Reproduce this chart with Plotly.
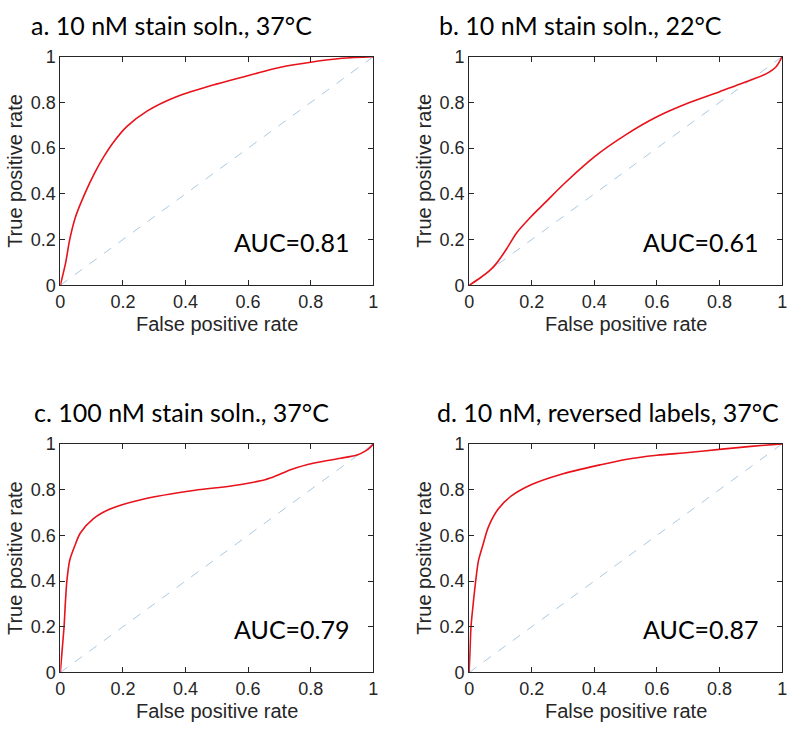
import plotly.graph_objects as go

# ---- data ----
titles = ["a. 10 nM stain soln., 37°C", "b. 10 nM stain soln., 22°C",
          "c. 100 nM stain soln., 37°C", "d. 10 nM, reversed labels, 37°C"]
auc_labels = ["AUC=0.81", "AUC=0.61", "AUC=0.79", "AUC=0.87"]

fpr_a = [0, 0.017, 0.030, 0.048, 0.078, 0.109, 0.14, 0.171, 0.213, 0.277, 0.371, 0.498, 0.613, 0.7, 0.8, 0.9, 1.0]
tpr_a = [0, 0.098, 0.2, 0.297, 0.4, 0.49, 0.565, 0.628, 0.695, 0.762, 0.825, 0.88, 0.922, 0.953, 0.976, 0.993, 1.0]

fpr_b = [0, 0.036, 0.067, 0.088, 0.12, 0.151, 0.199, 0.246, 0.3, 0.4, 0.5, 0.6, 0.7, 0.8, 0.9, 0.95, 0.98, 1.0]
tpr_b = [0, 0.033, 0.066, 0.097, 0.16, 0.228, 0.302, 0.366, 0.44, 0.562, 0.658, 0.737, 0.797, 0.847, 0.898, 0.926, 0.955, 1.0]

fpr_c = [0, 0.006, 0.012, 0.016, 0.021, 0.030, 0.046, 0.064, 0.106, 0.159, 0.264, 0.431, 0.5, 0.55, 0.6, 0.654, 0.686, 0.738, 0.811, 0.895, 0.948, 0.974, 0.99, 1.0]
tpr_c = [0, 0.1, 0.2, 0.3, 0.4, 0.49, 0.553, 0.61, 0.673, 0.715, 0.758, 0.797, 0.808, 0.817, 0.828, 0.843, 0.858, 0.888, 0.916, 0.937, 0.951, 0.968, 0.985, 1.0]

fpr_d = [0, 0.003, 0.006, 0.013, 0.021, 0.030, 0.043, 0.062, 0.093, 0.135, 0.198, 0.292, 0.418, 0.5, 0.6, 0.7, 0.8, 0.9, 1.0]
tpr_d = [0, 0.1, 0.2, 0.3, 0.4, 0.49, 0.553, 0.638, 0.715, 0.772, 0.821, 0.866, 0.908, 0.932, 0.95, 0.962, 0.976, 0.989, 1.0]

chance = [0, 1]
tick_vals = [0, 0.2, 0.4, 0.6, 0.8, 1]
tick_text = ["0", "0.2", "0.4", "0.6", "0.8", "1"]
x_title = "False positive rate"
y_title = "True positive rate"

curves = [(fpr_a, tpr_a), (fpr_b, tpr_b), (fpr_c, tpr_c), (fpr_d, tpr_d)]

# ---- layout geometry (pixels) ----
W, H = 800, 735
boxes = [(56, 373, 48, 283), (470, 787, 48, 283), (56, 373, 446, 681), (470, 787, 446, 681)]
title_pos = [(24, 15), (437, 15), (27, 413), (435, 413)]

fig = go.Figure()
ann = []
layout = {}
axcol = "#262626"
for i, ((fx, ty), (x0, x1, y0, y1)) in enumerate(zip(curves, boxes)):
    n = "" if i == 0 else str(i + 1)
    xa, ya = "x" + n, "y" + n
    fig.add_trace(go.Scatter(x=chance, y=chance, xaxis=xa, yaxis=ya, mode="lines",
                             line=dict(color="#a9c9e2", width=1, dash="dash"),
                             showlegend=False, hoverinfo="skip"))
    fig.add_trace(go.Scatter(x=fx, y=ty, xaxis=xa, yaxis=ya, mode="lines",
                             line=dict(color="#e8121b", width=1.6, shape="spline", smoothing=0.8),
                             showlegend=False))
    common = dict(range=[0, 1], tickvals=tick_vals, ticktext=tick_text, ticks="inside",
                  ticklen=5, tickcolor=axcol, tickwidth=1, showline=True, linecolor=axcol,
                  linewidth=1, mirror="ticks", showgrid=False, zeroline=False,
                  tickfont=dict(family="Liberation Sans", size=18, color=axcol))
    layout["xaxis" + n] = dict(common, domain=[x0 / W, x1 / W], anchor=ya)
    layout["yaxis" + n] = dict(common, domain=[1 - y1 / H, 1 - y0 / H], anchor=xa)
    tx, tyy = title_pos[i]
    ann.append(dict(text=titles[i], x=tx / W, y=1 - tyy / H, xref="paper", yref="paper",
                    xanchor="left", yanchor="middle", showarrow=False,
                    font=dict(family="Lato", size=25, color="black")))
    ann.append(dict(text=auc_labels[i], x=0.74, y=0.19, xref=xa, yref=ya,
                    xanchor="center", yanchor="middle", showarrow=False,
                    font=dict(family="Lato", size=25, color="black")))
    ann.append(dict(text=x_title, x=(x0 + x1) / 2 / W, y=1 - (y1 + 40) / H, xref="paper",
                    yref="paper", xanchor="center", yanchor="middle", showarrow=False,
                    font=dict(family="Liberation Sans", size=20, color=axcol)))
    ann.append(dict(text=y_title, x=(x0 - 46) / W, y=1 - (y0 + y1) / 2 / H, xref="paper",
                    yref="paper", xanchor="center", yanchor="middle", showarrow=False,
                    textangle=-90,
                    font=dict(family="Liberation Sans", size=20, color=axcol)))

fig.update_layout(width=W, height=H, margin=dict(l=0, r=0, t=0, b=0),
                  paper_bgcolor="white", plot_bgcolor="white", annotations=ann,
                  **layout)
fig.write_html("out.html", config={"displayModeBar": False},
               post_script="document.body.style.margin='0';document.body.style.overflow='hidden';")
